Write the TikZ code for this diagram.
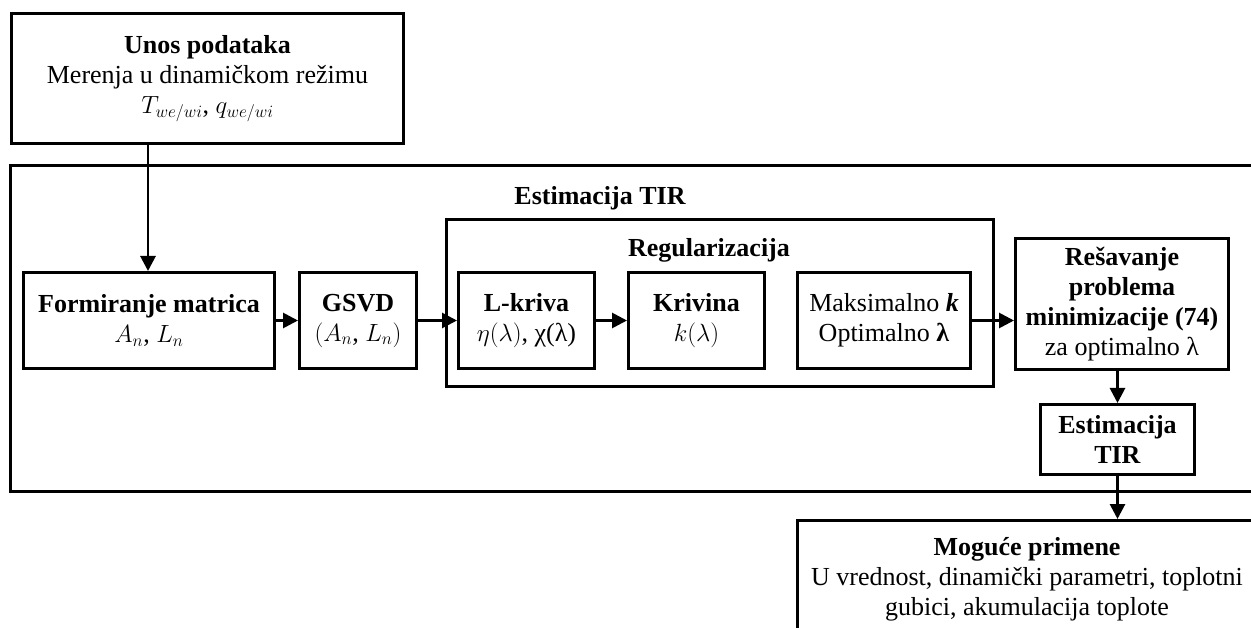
\documentclass[tikz,border=0pt]{standalone}
\usepackage{fontspec}
\setmainfont{Liberation Serif}
\usetikzlibrary{arrows.meta}
\begin{document}
\begin{tikzpicture}[x=1pt,y=-1pt,
  every node/.style={font=\fontsize{26}{30}\selectfont},
  box/.style={draw,line width=3pt,anchor=north west,align=center,inner sep=0pt},
  lbl/.style={font=\fontsize{26}{30}\selectfont\bfseries},
  conn/.style={line width=2.8pt,-{Triangle[length=15pt,width=15pt]}},
  frame/.style={draw,line width=3pt}]
\useasboundingbox (0,0) rectangle (1251,628);
% outer frame of the TIR estimation stage
\draw[frame] (1280,166) -- (10,166) -- (10,491) -- (1280,491);
% regularization group
\draw[frame] (446,220) rectangle (993,387);
\node[lbl] (tEst) at (600,198) {Estimacija TIR};
\node[lbl] (tReg) at (709,250) {Regularizacija};
% input data
\node[box,minimum width=392pt,minimum height=130pt] (unos) at (10,12)
  {\textbf{Unos podataka}\\Merenja u dinamičkom režimu\\$T_{we/wi}$, $q_{we/wi}$};
% processing chain
\node[box,minimum width=251pt,minimum height=96pt] (form) at (22,271)
  {\textbf{Formiranje matrica}\\$A_n$, $L_n$};
\node[box,minimum width=117pt,minimum height=96pt] (gsvd) at (298,271)
  {\textbf{GSVD}\\$(A_n$, $L_n)$};
\node[box,minimum width=136pt,minimum height=96pt] (lkr) at (457,271)
  {\textbf{L-kriva}\\$\eta(\lambda)$, χ(λ)};
\node[box,minimum width=136pt,minimum height=96pt] (kriv) at (627,271)
  {\textbf{Krivina}\\$k(\lambda)$};
\node[box,minimum width=173pt,minimum height=96pt] (maks) at (796,271)
  {Maksimalno \textbf{\textit{k}}\\Optimalno \textbf{λ}};
\node[box,minimum width=213pt,minimum height=131pt] (res) at (1014,237)
  {\textbf{Rešavanje}\\\textbf{problema}\\\textbf{minimizacije (74)}\\za optimalno λ};
\node[box,minimum width=154pt,minimum height=70pt] (est) at (1039,403)
  {\textbf{Estimacija}\\\textbf{TIR}};
% applications
\node[box,minimum width=462pt,minimum height=130pt,anchor=north west] (prim) at (796,519) {};
\node[align=center,anchor=north] (primtxt) at (1027,534)
  {\textbf{Moguće primene}\\U vrednost, dinamički parametri, toplotni\\gubici, akumulacija toplote};
% connectors
\draw[conn] (unos.south -| 148,0) -- (form.north -| 148,0);
\draw[conn] (form.east) -- (gsvd.west);
\draw[conn] (gsvd.east) -- (lkr.west);
\draw[conn] (lkr.east) -- (kriv.west);
\draw[conn] (maks.east) -- (res.west |- maks.east);
\draw[conn] (res.south -| est.north) -- (est.north);
\draw[conn] (est.south) -- (prim.north -| est.south);
\end{tikzpicture}
\end{document}
